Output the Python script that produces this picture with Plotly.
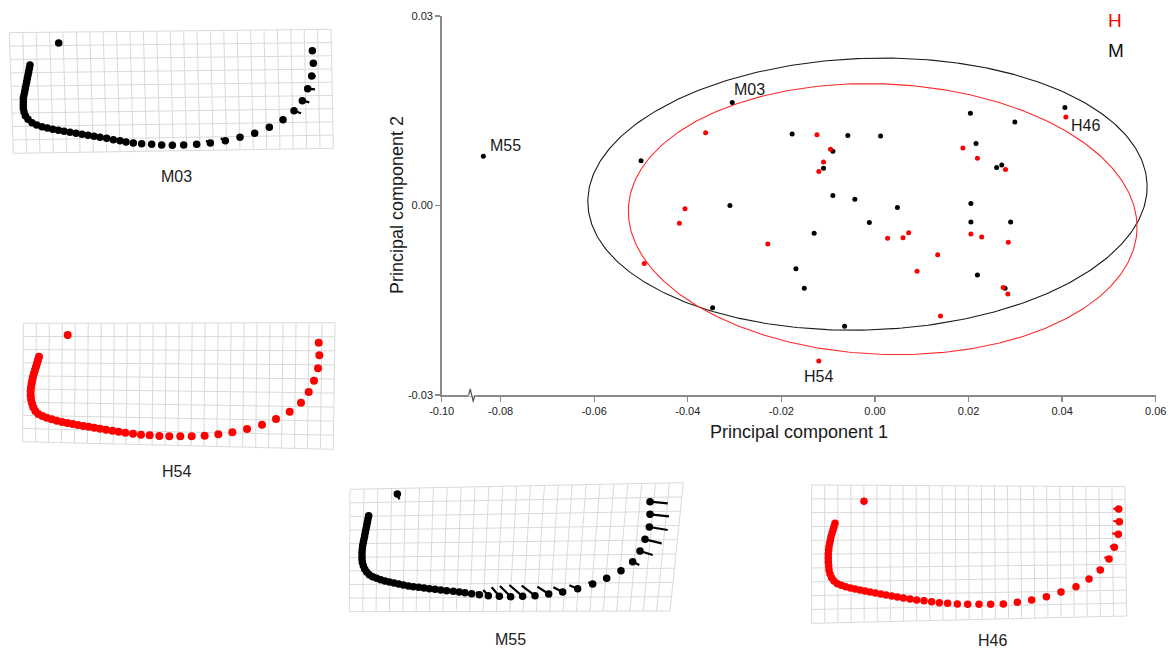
import numpy as np
import plotly.graph_objects as go

FIG_W, FIG_H = 1174, 652
FONT = "Liberation Sans, Arial, Helvetica, sans-serif"

# ---------------- main PCA scatter data ----------------
M_pc1 = [-0.0305, -0.0837, -0.0500, -0.0310, -0.0347, 0.0406, 0.0299, 0.0204, -0.0177, -0.0058,
         0.0012, -0.0090, -0.0110, 0.0216, 0.0260, 0.0271, -0.0090, -0.0043, 0.0048, 0.0205,
         -0.0012, 0.0205, 0.0290, -0.0130, -0.0169, 0.0219, -0.0151, 0.0278, -0.0065]
M_pc2 = [0.0163, 0.0078, 0.0071, 0.0000, -0.0162, 0.0155, 0.0132, 0.0146, 0.0113, 0.0111,
         0.0110, 0.0086, 0.0059, 0.0098, 0.0060, 0.0064, 0.0016, 0.0010, -0.0003, 0.0003,
         -0.0027, -0.0026, -0.0026, -0.0044, -0.0100, -0.0110, -0.0131, -0.0131, -0.0191]
H_pc1 = [-0.0362, -0.0406, -0.0418, -0.0229, -0.0493, 0.0408, -0.0124, -0.0095, -0.0110, -0.0120,
         0.0188, 0.0219, 0.0279, 0.0027, 0.0060, 0.0072, 0.0205, 0.0228, 0.0285, 0.0134,
         0.0090, 0.0274, 0.0284, 0.0140, -0.0120]
H_pc2 = [0.0115, -0.0005, -0.0028, -0.0061, -0.0092, 0.0140, 0.0112, 0.0089, 0.0069, 0.0054,
         0.0091, 0.0075, 0.0057, -0.0052, -0.0051, -0.0043, -0.0045, -0.0050, -0.0058, -0.0078,
         -0.0104, -0.0130, -0.0140, -0.0175, -0.0246]

label_names = ["M03", "M55", "H46", "H54"]
label_pc1 = [-0.0305, -0.0837, 0.0408, -0.0120]
label_pc2 = [0.0163, 0.0078, 0.0140, -0.0246]

X_LEFT = -0.0926           # position of the broken-axis "-0.10" tick
BREAK_X = -0.0863
x_tick_vals = [X_LEFT, -0.08, -0.06, -0.04, -0.02, 0.0, 0.02, 0.04, 0.06]
x_tick_text = ["-0.10", "-0.08", "-0.06", "-0.04", "-0.02", "0.00", "0.02", "0.04", "0.06"]
y_tick_vals = [-0.03, 0.0, 0.03]
y_tick_text = ["-0.03", "0.00", "0.03"]

# confidence ellipses: centre, semi-axes (PC1 units, PC2 units), tilt (deg on screen)
ell_M = dict(cx=-0.0016, cy=0.0018, a=0.0598, b=0.0215, ang=2.0)
ell_H = dict(cx=0.00165, cy=-0.00216, a=0.0544, b=0.0214, ang=-2.5)

# ---------------- deformation-grid insets (landmark coords, 1 unit = 1/3 px) ----------------
M03_iso = (176, 69)
M03_x = [90, 88, 86, 84, 82, 80, 78, 76, 74, 72, 70, 70, 70, 70, 72, 76, 84, 96, 110, 126,
         142, 158, 175, 192, 210, 228, 246, 264, 282, 300, 320, 340, 360, 378, 400, 425, 455, 485, 517, 551,
         590, 631, 676, 720, 764, 808, 849, 882, 907, 923, 935, 940, 937]
M03_y = [135, 145, 155, 165, 175, 185, 195, 205, 215, 225, 235, 245, 255, 265, 275, 287, 298, 308, 315, 320,
         324, 328, 331, 334, 337, 340, 343, 346, 349, 352, 355, 359, 362, 366, 369, 371, 373, 375, 376, 375,
         373, 369, 362, 352, 340, 322, 299, 272, 242, 206, 168, 130, 92]
M03_vec = [((923, 206), (945, 208)), ((907, 242), (928, 247)), ((882, 272), (903, 280)),
           ((935, 168), (947, 170)), ((676, 362), (662, 355)), ((631, 369), (618, 362)),
           ((590, 373), (580, 368))]
M03_grid = [(28, 38), (993, 28), (1000, 385), (40, 400)]

H54_iso = (203, 75)
H54_x = [117, 114, 111, 108, 105, 102, 99, 97, 95, 93, 92, 92, 93, 96, 100, 106, 115, 127, 140, 155,
         170, 186, 202, 218, 234, 250, 266, 283, 300, 318, 337, 356, 376, 399, 423, 449, 478, 508, 541, 575,
         614, 655, 697, 741, 786, 828, 869, 903, 926, 942, 954, 958, 956]
H54_y = [140, 150, 160, 170, 180, 190, 200, 210, 220, 232, 244, 256, 268, 280, 292, 303, 312, 318, 323, 328,
         332, 336, 339, 342, 345, 348, 350, 353, 356, 359, 362, 365, 368, 371, 374, 376, 378, 379, 379, 379,
         377, 373, 367, 357, 344, 327, 305, 278, 246, 212, 175, 136, 98]
H54_vec = []
H54_grid = [(70, 40), (1005, 38), (1000, 418), (68, 395)]

M55_iso = (172, 42)
M55_x = [86, 84, 82, 80, 78, 76, 74, 72, 70, 68, 67, 66, 66, 66, 67, 70, 74, 80, 88, 98,
         110, 122, 135, 148, 162, 176, 190, 205, 220, 236, 252, 268, 285, 302, 320, 340, 358, 375, 395, 418,
         445, 478, 512, 548, 585, 626, 668, 713, 758, 800, 843, 878, 900, 915, 928, 930, 930]
M55_y = [107, 117, 127, 137, 147, 157, 167, 177, 187, 197, 207, 217, 227, 237, 247, 257, 267, 276, 284, 290,
         295, 299, 303, 306, 309, 312, 315, 318, 320, 322, 324, 326, 328, 330, 332, 334, 336, 338, 341, 344,
         347, 349, 350, 349, 347, 342, 336, 326, 312, 295, 272, 245, 213, 178, 141, 103, 65]
M55_vec = [((930, 65), (983, 70)), ((930, 103), (987, 109)), ((928, 141), (983, 150)),
           ((915, 178), (965, 190)), ((900, 213), (938, 225)), ((878, 245), (898, 255)),
           ((418, 344), (408, 336)), ((445, 347), (430, 330)), ((478, 349), (455, 322)),
           ((512, 350), (480, 318)), ((548, 349), (508, 315)), ((585, 347), (545, 317)),
           ((626, 342), (592, 320)), ((668, 336), (640, 322)), ((713, 326), (688, 316)),
           ((758, 312), (745, 307)), ((172, 42), (178, 58))]
M55_grid = [(30, 28), (1030, 8), (990, 393), (28, 395)]

H46_iso = (252, 64)
H46_x = [165, 162, 159, 156, 153, 151, 149, 147, 146, 145, 145, 145, 146, 147, 150, 155, 162, 172, 184, 197,
         211, 225, 240, 255, 270, 286, 302, 318, 335, 352, 370, 390, 410, 432, 455, 478, 503, 532, 563, 597,
         632, 670, 712, 755, 799, 843, 888, 927, 961, 987, 1003, 1015, 1018, 1016]
H46_y = [130, 140, 150, 160, 170, 180, 190, 200, 210, 222, 234, 246, 258, 270, 282, 293, 303, 311, 316, 320,
         324, 327, 330, 333, 336, 339, 342, 345, 348, 351, 354, 357, 360, 362, 365, 368, 370, 372, 373, 373,
         373, 372, 367, 360, 350, 336, 320, 297, 270, 237, 202, 163, 125, 87]
H46_vec = [((1016, 87), (1000, 86)), ((1018, 125), (1000, 123)), ((1015, 163), (997, 160)),
           ((1003, 202), (990, 198)), ((987, 237), (973, 232)), ((961, 270), (950, 265)),
           ((632, 373), (624, 378)), ((597, 373), (589, 378)), ((563, 373), (555, 377))]
H46_grid = [(95, 15), (1035, 20), (1040, 408), (95, 430)]

# ---------------- layout geometry ----------------
MAIN_L, MAIN_R, MAIN_T, MAIN_B = 441.7, 1155.7, 16, 395
X_RANGE = [X_LEFT, 0.06]
Y_RANGE = [-0.03, 0.03]
sx = (MAIN_R - MAIN_L) / (X_RANGE[1] - X_RANGE[0])
sy = (MAIN_B - MAIN_T) / (Y_RANGE[1] - Y_RANGE[0])

panels = [
    dict(iso=M03_iso, x=M03_x, y=M03_y, vec=M03_vec, grid=M03_grid, rows=9, cols=24,
         color="black", size=7.5, box=(0, 20, 340, 180), label="M03", lab=(530, 470)),
    dict(iso=H54_iso, x=H54_x, y=H54_y, vec=H54_vec, grid=H54_grid, rows=9, cols=24,
         color="#ff0000", size=8, box=(0, 310, 340, 180), label="H54", lab=(528, 485)),
    dict(iso=M55_iso, x=M55_x, y=M55_y, vec=M55_vec, grid=M55_grid, rows=9, cols=24,
         color="black", size=7.5, box=(340, 480, 400, 172), label="M55", lab=(512, 478)),
    dict(iso=H46_iso, x=H46_x, y=H46_y, vec=H46_vec, grid=H46_grid, rows=10, cols=24,
         color="#ff0000", size=7.5, box=(780, 480, 394, 172), label="H46", lab=(637, 480)),
]

fig = go.Figure()


def ellipse(e, n=400):
    t = np.linspace(0, 2 * np.pi, n)
    th = np.radians(e["ang"])
    u = e["a"] * sx * np.cos(t)
    v = e["b"] * sy * np.sin(t)
    du = u * np.cos(th) - v * np.sin(th)
    dv = u * np.sin(th) + v * np.cos(th)
    return e["cx"] + du / sx, e["cy"] + dv / sy


for e, col in ((ell_M, "#1a1a1a"), (ell_H, "#ff2a2a")):
    ex, ey = ellipse(e)
    fig.add_trace(go.Scatter(x=ex, y=ey, mode="lines", line=dict(color=col, width=1.1),
                             hoverinfo="skip", showlegend=False))

fig.add_trace(go.Scatter(x=M_pc1, y=M_pc2, mode="markers", marker=dict(color="black", size=5),
                         showlegend=False, name="M"))
fig.add_trace(go.Scatter(x=H_pc1, y=H_pc2, mode="markers", marker=dict(color="#ff0000", size=5),
                         showlegend=False, name="H"))

layout = dict(
    template="none",
    width=FIG_W, height=FIG_H, autosize=False,
    margin=dict(l=0, r=0, t=0, b=0, pad=0, autoexpand=False),
    paper_bgcolor="white", plot_bgcolor="white", showlegend=False,
    font=dict(family=FONT, color="#222222"),
    xaxis=dict(domain=[MAIN_L / FIG_W, MAIN_R / FIG_W], range=X_RANGE, tickmode="array",
               tickvals=x_tick_vals, ticktext=x_tick_text, showgrid=False, zeroline=False,
               showline=True, linecolor="#8a8a8a", linewidth=1.5, ticks="outside",
               ticklen=5, tickcolor="#8a8a8a", tickwidth=1.3, tickfont=dict(size=11, color="#222222"),
               anchor="y", fixedrange=True, automargin=False),
    yaxis=dict(domain=[1 - MAIN_B / FIG_H, 1 - MAIN_T / FIG_H], range=Y_RANGE, tickmode="array",
               tickvals=y_tick_vals, ticktext=y_tick_text, showgrid=False, zeroline=False,
               showline=True, linecolor="#8a8a8a", linewidth=1.5, ticks="outside",
               ticklen=5, tickcolor="#8a8a8a", tickwidth=1.3, tickfont=dict(size=11, color="#222222"),
               anchor="x", fixedrange=True, automargin=False),
)

annotations = []
shapes = []

# panels
for i, p in enumerate(panels, start=2):
    x0, y0, w, h = p["box"]
    xa, ya = f"x{i}", f"y{i}"
    layout[f"xaxis{i}"] = dict(domain=[x0 / FIG_W, (x0 + w) / FIG_W], range=[0, 3 * w],
                               visible=False, anchor=ya, fixedrange=True, automargin=False)
    layout[f"yaxis{i}"] = dict(domain=[1 - (y0 + h) / FIG_H, 1 - y0 / FIG_H], range=[3 * h, 0],
                               visible=False, anchor=xa, fixedrange=True, automargin=False)
    TL, TR, BR, BL = [np.array(c, dtype=float) for c in p["grid"]]

    def P(u, v):
        return (1 - u) * (1 - v) * TL + u * (1 - v) * TR + u * v * BR + (1 - u) * v * BL

    gx, gy = [], []
    for c in range(p["cols"] + 1):
        u = c / p["cols"]
        for v in (0.0, 1.0):
            q = P(u, v)
            gx.append(q[0]); gy.append(q[1])
        gx.append(None); gy.append(None)
    for r in range(p["rows"] + 1):
        v = r / p["rows"]
        for u in (0.0, 1.0):
            q = P(u, v)
            gx.append(q[0]); gy.append(q[1])
        gx.append(None); gy.append(None)
    fig.add_trace(go.Scatter(x=gx, y=gy, mode="lines", line=dict(color="#dadada", width=1),
                             xaxis=xa, yaxis=ya, hoverinfo="skip", showlegend=False))
    if p["vec"]:
        vx, vy = [], []
        for (a, b) in p["vec"]:
            vx += [a[0], b[0], None]
            vy += [a[1], b[1], None]
        fig.add_trace(go.Scatter(x=vx, y=vy, mode="lines", line=dict(color=p["color"], width=2.2),
                                 xaxis=xa, yaxis=ya, hoverinfo="skip", showlegend=False))
    fig.add_trace(go.Scatter(x=[p["iso"][0]] + p["x"], y=[p["iso"][1]] + p["y"], mode="markers",
                             marker=dict(color=p["color"], size=p["size"], line=dict(width=0)),
                             xaxis=xa, yaxis=ya, hoverinfo="skip", showlegend=False))
    annotations.append(dict(x=p["lab"][0], y=p["lab"][1], xref=xa, yref=ya, text=p["label"],
                            showarrow=False, font=dict(size=16, color="#222222"),
                            xanchor="center", yanchor="middle"))

# point labels in the main plot
lab_style = {
    "M03": dict(xanchor="left", yanchor="bottom", xshift=0, yshift=3),
    "M55": dict(xanchor="left", yanchor="bottom", xshift=5, yshift=0),
    "H46": dict(xanchor="left", yanchor="middle", xshift=3, yshift=-8),
    "H54": dict(xanchor="center", yanchor="top", xshift=0, yshift=-5),
}
for n, lx, ly in zip(label_names, label_pc1, label_pc2):
    annotations.append(dict(x=lx, y=ly, xref="x", yref="y", text=n, showarrow=False,
                            font=dict(size=16, color="#1a1a1a"), **lab_style[n]))

# axis titles
annotations.append(dict(x=(MAIN_L + MAIN_R) / 2 / FIG_W, y=1 - 432 / FIG_H, xref="paper", yref="paper",
                        text="Principal component 1", showarrow=False, font=dict(size=18, color="#1a1a1a"),
                        xanchor="center", yanchor="middle"))
annotations.append(dict(x=397 / FIG_W, y=1 - 205 / FIG_H, xref="paper", yref="paper",
                        text="Principal component 2", showarrow=False, textangle=-90,
                        font=dict(size=18, color="#1a1a1a"), xanchor="center", yanchor="middle"))

# group key
annotations.append(dict(x=1106 / FIG_W, y=1 - 20 / FIG_H, xref="paper", yref="paper", text="H",
                        showarrow=False, font=dict(size=19, color="#ff0000"), xanchor="left", yanchor="middle"))
annotations.append(dict(x=1106 / FIG_W, y=1 - 51 / FIG_H, xref="paper", yref="paper", text="M",
                        showarrow=False, font=dict(size=19, color="#111111"), xanchor="left", yanchor="middle"))

# axis break mark on the x axis
px2x = 1.0 / sx
yb = 1 - MAIN_B / FIG_H
shapes.append(dict(type="line", xref="x", yref="paper", x0=BREAK_X - 2.5 * px2x, x1=BREAK_X + 5 * px2x,
                   y0=yb, y1=yb, line=dict(color="white", width=3), layer="above"))
zig_x = [BREAK_X - 2.5 * px2x, BREAK_X - 1 * px2x, BREAK_X + 2 * px2x, BREAK_X + 4 * px2x]
zig_y = [yb, yb + 6 / FIG_H, yb - 6 / FIG_H, yb]
path = "M {} {} L {} {} L {} {} L {} {}".format(*[v for xy in zip(zig_x, zig_y) for v in xy])
shapes.append(dict(type="path", xref="x", yref="paper", path=path,
                   line=dict(color="#555555", width=1.2), layer="above"))

layout["annotations"] = annotations
layout["shapes"] = shapes
fig.update_layout(**layout)

fig.write_html("out.html",
               config={"displayModeBar": False, "staticPlot": True},
               post_script="document.body.style.margin='0';document.body.style.padding='0';"
                           "document.body.style.overflow='hidden';")
